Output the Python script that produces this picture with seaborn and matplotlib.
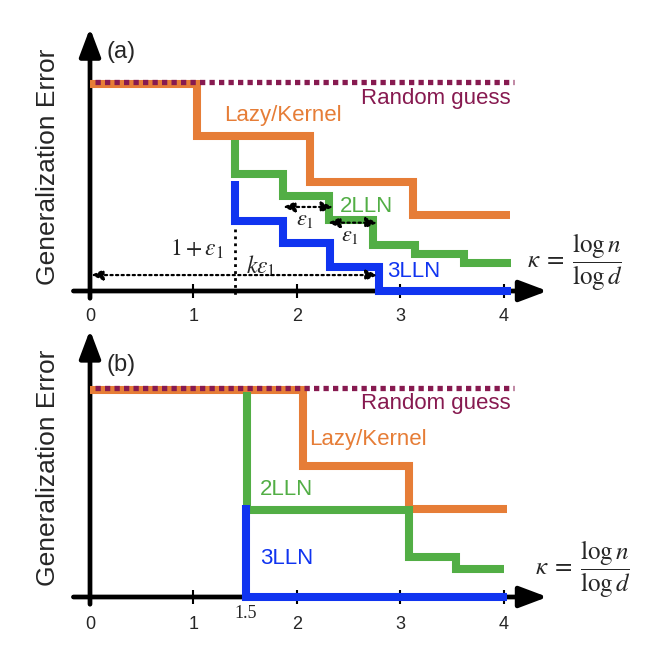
import numpy as np
import pandas as pd
import matplotlib.pyplot as plt
import seaborn as sns

# step breakpoints (kappa) and error levels, panel (a)
a_lazy_x = [0.0, 1.03, 2.13, 3.12, 4.06]
a_lazy_y = [1.0, 0.75, 0.527, 0.367]
a_2lln_x = [1.40, 1.40, 1.86, 2.31, 2.73, 3.14, 3.61, 4.07]
a_2lln_y = [0.73, 0.565, 0.459, 0.343, 0.222, 0.179, 0.135]
a_3lln_x = [1.40, 1.40, 1.86, 2.32, 2.79, 4.07]
a_3lln_y = [0.53, 0.338, 0.232, 0.116, 0.0]

# panel (b)
b_lazy_x = [0.0, 2.06, 3.08, 4.03]
b_lazy_y = [1.0, 0.633, 0.425]
b_2lln_x = [1.52, 1.52, 3.08, 3.54, 4.0]
b_2lln_y = [0.99, 0.42, 0.193, 0.135]
b_3lln_x = [1.51, 1.51, 4.03]
b_3lln_y = [0.445, 0.0]

random_x = [0.05, 4.1]
random_y = 1.012

xticks = [0, 1, 2, 3, 4]

c_lazy = '#E67D37'
c_2lln = '#52AE45'
c_3lln = '#1034F0'
c_rand = '#871A50'

sns.set_style('white')
plt.rcParams['font.family'] = ['Liberation Sans', 'DejaVu Sans']
plt.rcParams['mathtext.fontset'] = 'stix'

KAPPA = r'$\kappa\;=\;\dfrac{\log n}{\log d}$'


def step_frame(xs, ys):
    """Turn breakpoints and levels into the corner points of a step path."""
    px = np.repeat(xs, 2)[1:-1]
    py = np.repeat(ys, 2)
    return pd.DataFrame({'x': px, 'y': py})


def step_line(ax, xs, ys, color, z):
    df = step_frame(xs, ys)
    sns.lineplot(data=df, x='x', y='y', ax=ax, sort=False, estimator=None,
                 color=color, lw=5.8, solid_capstyle='butt',
                 solid_joinstyle='miter', zorder=z)


def draw_axes(ax, ytop):
    arrow = dict(arrowstyle='-|>,head_length=0.85,head_width=0.32',
                 mutation_scale=20, lw=3.4, color='k', shrinkA=0, shrinkB=0)
    ax.annotate('', xy=(4.42, 0), xytext=(-0.16, 0), arrowprops=arrow,
                zorder=2)
    ax.annotate('', xy=(0, ytop), xytext=(0, -0.035), arrowprops=arrow,
                zorder=2)
    ax.vlines(xticks, -0.035, 0.035, color='k', lw=1.5, zorder=2)


def dotted_arrow(ax, x0, x1, y):
    ax.annotate('', xy=(x1, y), xytext=(x0, y),
                arrowprops=dict(arrowstyle='<|-|>,head_length=0.5,head_width=0.22',
                                mutation_scale=14, lw=1.6, color='k',
                                linestyle=(0, (1, 1.5)), shrinkA=0, shrinkB=0),
                zorder=6)


def random_line(ax):
    df = pd.DataFrame({'x': random_x, 'y': [random_y, random_y]})
    sns.lineplot(data=df, x='x', y='y', ax=ax, color=c_rand, lw=3.8,
                 linestyle=(0, (1, 0.8)), zorder=5)


fig = plt.figure(figsize=(6.68, 6.48), dpi=100)
ax_a = fig.add_axes([0, 0.5, 1, 0.5])
ax_b = fig.add_axes([0, 0, 1, 0.5])

# panel (a)
ax = ax_a
draw_axes(ax, 1.27)
step_line(ax, a_lazy_x, a_lazy_y, c_lazy, 3)
step_line(ax, a_2lln_x, a_2lln_y, c_2lln, 3.5)
step_line(ax, a_3lln_x, a_3lln_y, c_3lln, 4)
random_line(ax)
ax.plot([1.40, 1.40], [0.30, -0.02], color='k', lw=2,
        linestyle=(0, (1, 1.5)), zorder=6)
dotted_arrow(ax, 1.865, 2.35, 0.406)
dotted_arrow(ax, 2.30, 2.78, 0.33)
dotted_arrow(ax, 0.01, 2.78, 0.077)
ax.text(2.08, 0.343, r'$\epsilon_1$', fontsize=16, ha='center', va='center')
ax.text(2.51, 0.266, r'$\epsilon_1$', fontsize=16, ha='center', va='center')
ax.text(1.29, 0.2, r'$1+\epsilon_1$', fontsize=17, ha='right', va='center')
ax.text(1.65, 0.118, r'$k\epsilon_1$', fontsize=17, ha='center', va='center')
ax.text(0.16, 1.155, '(a)', fontsize=17, ha='left', va='center')
ax.text(4.06, 0.932, 'Random guess', fontsize=16, color=c_rand,
        ha='right', va='center')
ax.text(1.30, 0.85, 'Lazy/Kernel', fontsize=16, color=c_lazy,
        ha='left', va='center')
ax.text(2.415, 0.406, '2LLN', fontsize=16, color=c_2lln, ha='left',
        va='center')
ax.text(2.87, 0.092, '3LLN', fontsize=16, color=c_3lln, ha='left',
        va='center')
ax.text(4.22, 0.14, KAPPA, fontsize=18, ha='left', va='center')
ax.text(-0.41, 0.6, 'Generalization Error', fontsize=19, rotation=90,
        ha='center', va='center')
for t in xticks:
    ax.text(t, -0.125, str(t), fontsize=13, ha='center', va='center')
ax.set_xlim(-90 / 103.5, (668 - 90) / 103.5)
ax.set_ylim(-33 / 207, 291 / 207)

# panel (b)
ax = ax_b
draw_axes(ax, 1.29)
step_line(ax, b_lazy_x, b_lazy_y, c_lazy, 3)
step_line(ax, b_2lln_x, b_2lln_y, c_2lln, 3.5)
step_line(ax, b_3lln_x, b_3lln_y, c_3lln, 4)
random_line(ax)
ax.text(0.16, 1.12, '(b)', fontsize=17, ha='left', va='center')
ax.text(4.06, 0.937, 'Random guess', fontsize=16, color=c_rand,
        ha='right', va='center')
ax.text(2.12, 0.763, 'Lazy/Kernel', fontsize=16, color=c_lazy,
        ha='left', va='center')
ax.text(1.64, 0.517, '2LLN', fontsize=16, color=c_2lln, ha='left',
        va='center')
ax.text(1.64, 0.184, '3LLN', fontsize=16, color=c_3lln, ha='left',
        va='center')
ax.text(4.30, 0.135, KAPPA, fontsize=18, ha='left', va='center')
ax.text(-0.41, 0.623, 'Generalization Error', fontsize=19, rotation=90,
        ha='center', va='center')
for t in xticks:
    ax.text(t, -0.135, str(t), fontsize=13, ha='center', va='center')
ax.text(1.50, -0.082, '1.5', fontsize=13, family='Liberation Serif',
        ha='center', va='center')
ax.set_xlim(-90 / 103.5, (668 - 90) / 103.5)
ax.set_ylim(-51 / 207, 273 / 207)

for a in (ax_a, ax_b):
    a.set_axis_off()
    legend = a.get_legend()
    if legend is not None:
        legend.remove()

fig.savefig('out.png', dpi=100)
